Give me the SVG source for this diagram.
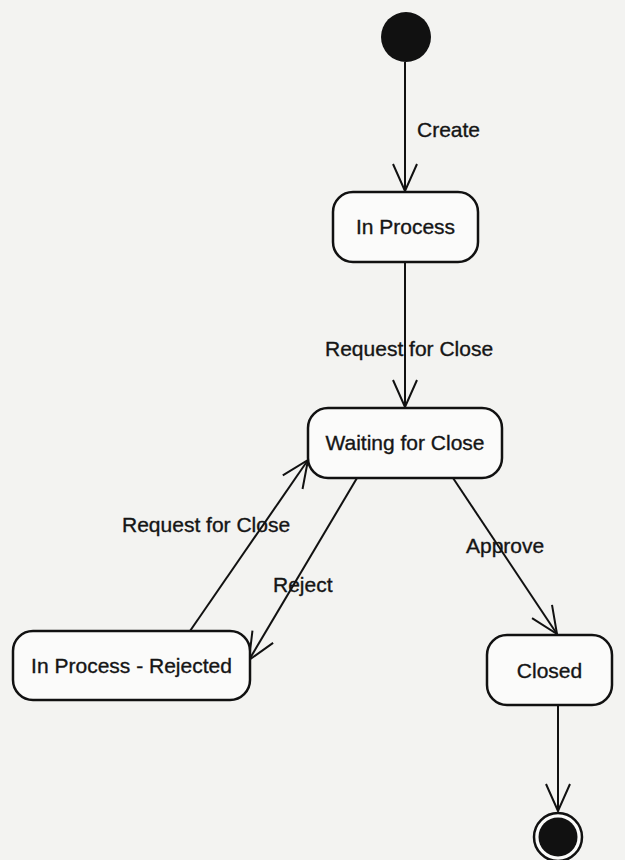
<svg xmlns="http://www.w3.org/2000/svg" width="625" height="860" viewBox="0 0 625 860">
  <style>
    .state { fill: #fbfbfa; stroke: #111; stroke-width: 2.5; }
    .name { font-family: "Liberation Sans", Arial, sans-serif; font-size: 21px; fill: #151515; stroke: #151515; stroke-width: 0.35; text-anchor: middle; }
    .label { font-family: "Liberation Sans", Arial, sans-serif; font-size: 21px; fill: #151515; stroke: #151515; stroke-width: 0.35; }
    .edge { fill: none; stroke: #111; stroke-width: 2; marker-end: url(#open); }
  </style>
  <defs>
    <marker id="open" viewBox="-30 -15 33 30" refX="0" refY="0" markerWidth="33" markerHeight="30" markerUnits="userSpaceOnUse" orient="auto">
      <path d="M-27,-12 L0,0 L-27,12" fill="none" stroke="#111" stroke-width="2"/>
    </marker>
  </defs>
  <rect x="0" y="0" width="625" height="860" fill="#f3f3f1"/>

  <!-- transitions -->
  <g id="connectors">
    <line class="edge" x1="405" y1="62" x2="405" y2="191"/>
    <line class="edge" x1="405" y1="262" x2="405" y2="407"/>
    <line class="edge" x1="190" y1="631" x2="308" y2="460"/>
    <line class="edge" x1="357" y1="478" x2="249" y2="660"/>
    <line class="edge" x1="453" y1="478" x2="557" y2="634"/>
    <line class="edge" x1="558" y1="705" x2="558" y2="811"/>
    <text class="label" x="417" y="137">Create</text>
    <text class="label" x="325" y="356">Request for Close</text>
    <text class="label" x="122" y="532">Request for Close</text>
    <text class="label" x="273" y="592">Reject</text>
    <text class="label" x="466" y="553">Approve</text>
  </g>

  <g id="start">
    <circle cx="406" cy="37" r="25" fill="#111"/>
  </g>

  <g id="in-process">
    <rect class="state" x="333" y="192" width="145" height="70" rx="20"/>
    <text class="name" x="405.5" y="234">In Process</text>
  </g>

  <g id="waiting-for-close">
    <rect class="state" x="308" y="408" width="194" height="70" rx="20"/>
    <text class="name" x="405" y="450">Waiting for Close</text>
  </g>

  <g id="in-process-rejected">
    <rect class="state" x="13" y="631" width="237" height="69" rx="20"/>
    <text class="name" x="131.5" y="673">In Process - Rejected</text>
  </g>

  <g id="closed">
    <rect class="state" x="487" y="635" width="125" height="70" rx="20"/>
    <text class="name" x="549.5" y="678">Closed</text>
  </g>

  <g id="end">
    <circle cx="558" cy="837" r="24" fill="#fbfbfa" stroke="#111" stroke-width="2.5"/>
    <circle cx="558" cy="837" r="19.5" fill="#111"/>
  </g>
</svg>
